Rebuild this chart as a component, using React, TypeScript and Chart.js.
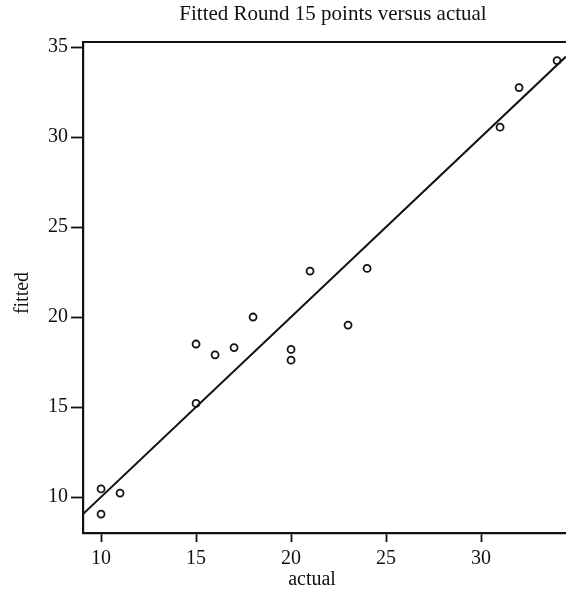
import React, { useEffect, useRef } from "react";
import { Chart, registerables } from "chart.js";

Chart.register(...registerables);

const TITLE = "Fitted Round 15 points versus actual";
const X_TITLE = "actual";
const Y_TITLE = "fitted";

const actual = [10, 10, 11, 15, 15, 16, 17, 18, 20, 20, 21, 23, 24, 31, 32, 34];
const fitted = [10.45, 9.05, 10.22, 18.5, 15.2, 17.9, 18.3, 20.0, 18.2, 17.6, 22.55, 19.55, 22.7, 30.55, 32.75, 34.25];

const fitX = [9.05, 34.47];
const fitY = [9.05, 34.47];

const xTicks = [10, 15, 20, 25, 30];
const yTicks = [10, 15, 20, 25, 30, 35];

const FONT = "'Liberation Serif', 'Times New Roman', serif";

export default function App() {
  const ref = useRef<HTMLCanvasElement>(null);

  useEffect(() => {
    document.body.style.margin = "0";
    const canvas = ref.current;
    if (!canvas) return;

    const textPlugin = {
      id: "texts",
      afterDraw(chart: any) {
        const ctx = chart.ctx;
        const a = chart.chartArea;
        ctx.save();
        ctx.fillStyle = "#111";
        ctx.strokeStyle = "#111";
        ctx.lineWidth = 2.2;
        ctx.beginPath();
        ctx.moveTo(a.left, a.top);
        ctx.lineTo(a.right, a.top);
        ctx.stroke();
        ctx.textAlign = "center";
        ctx.textBaseline = "middle";
        ctx.font = `21px ${FONT}`;
        ctx.fillText(TITLE, 333, 14);
        ctx.font = `20px ${FONT}`;
        ctx.fillText(X_TITLE, 312, 580);
        ctx.translate(23, 293);
        ctx.rotate(-Math.PI / 2);
        ctx.fillText(Y_TITLE, 0, 0);
        ctx.restore();
      },
    };

    const chart = new Chart(canvas, {
      type: "scatter",
      data: {
        datasets: [
          {
            type: "line",
            data: fitX.map((x, i) => ({ x, y: fitY[i] })),
            borderColor: "#111",
            borderWidth: 2,
            pointRadius: 0,
            fill: false,
          } as any,
          {
            data: actual.map((x, i) => ({ x, y: fitted[i] })),
            borderColor: "#111",
            backgroundColor: "rgba(255,255,255,0)",
            borderWidth: 1.8,
            pointRadius: 3.5,
            pointStyle: "circle",
          },
        ],
      },
      options: {
        responsive: false,
        animation: false,
        devicePixelRatio: 1,
        layout: { autoPadding: false, padding: { top: 42, left: 0, right: 0, bottom: 0 } },
        plugins: {
          legend: { display: false },
          title: { display: false },
          tooltip: { enabled: false },
        },
        scales: {
          x: {
            type: "linear",
            position: "bottom",
            min: 9.05,
            max: 34.47,
            afterFit: (s: any) => {
              s.height = 61;
            },
            afterBuildTicks: (s: any) => {
              s.ticks = xTicks.map((v) => ({ value: v }));
            },
            ticks: {
              includeBounds: false,
              color: "#111",
              font: { family: FONT, size: 20 },
              padding: 5,
              maxRotation: 0,
            },
            grid: {
              display: true,
              drawOnChartArea: false,
              drawTicks: true,
              tickLength: 9,
              tickWidth: 1.8,
              tickColor: "#111",
            },
            border: { display: true, color: "#111", width: 2.2 },
          },
          y: {
            type: "linear",
            position: "left",
            min: 8,
            max: 35.28,
            afterFit: (s: any) => {
              s.width = 83;
            },
            afterBuildTicks: (s: any) => {
              s.ticks = yTicks.map((v) => ({ value: v }));
            },
            ticks: {
              includeBounds: false,
              color: "#111",
              font: { family: FONT, size: 20 },
              padding: 3,
            },
            grid: {
              display: true,
              drawOnChartArea: false,
              drawTicks: true,
              tickLength: 12,
              tickWidth: 1.8,
              tickColor: "#111",
            },
            border: { display: true, color: "#111", width: 2.2 },
          },
        },
      },
      plugins: [textPlugin],
    });

    return () => chart.destroy();
  }, []);

  return <canvas ref={ref} width={566} height={594} style={{ display: "block" }} />;
}
